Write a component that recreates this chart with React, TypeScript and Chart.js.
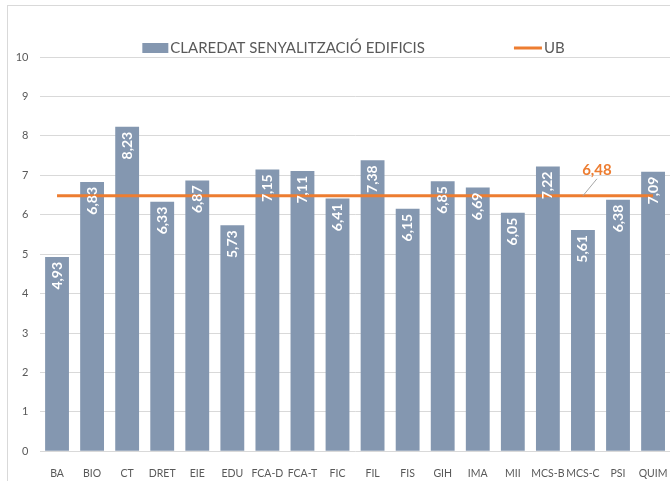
import React, { useEffect, useRef } from "react";
import { Chart, registerables } from "chart.js";

Chart.register(...registerables);

const categories = ["BA", "BIO", "CT", "DRET", "EIE", "EDU", "FCA-D", "FCA-T", "FIC", "FIL", "FIS", "GIH", "IMA", "MII", "MCS-B", "MCS-C", "PSI", "QUIM"];
const claredatValues = [4.93, 6.83, 8.23, 6.33, 6.87, 5.73, 7.15, 7.11, 6.41, 7.38, 6.15, 6.85, 6.69, 6.05, 7.22, 5.61, 6.38, 7.09];
const ubValues = [6.48, 6.48, 6.48, 6.48, 6.48, 6.48, 6.48, 6.48, 6.48, 6.48, 6.48, 6.48, 6.48, 6.48, 6.48, 6.48, 6.48, 6.48];
const ubValue = 6.48;
const ubLabelIndex = 15;
const barLabel = "CLAREDAT SENYALITZACIÓ EDIFICIS";
const lineLabel = "UB";
const yMin = 0;
const yMax = 10;
const yStep = 1;

const BAR_COLOR = "#8497B0";
const LINE_COLOR = "#ED7D31";
const TEXT_COLOR = "#595959";
const GRID_COLOR = "#D9D9D9";
const FONT = "Lato, sans-serif";

const fmt = (v: number) => v.toFixed(2).replace(".", ",");

const overlayPlugin = {
  id: "overlay",
  afterDatasetsDraw(chart: any) {
    const ctx = chart.ctx as CanvasRenderingContext2D;
    const barMeta = chart.getDatasetMeta(1);
    ctx.save();
    ctx.font = "bold 14px Lato";
    ctx.fillStyle = "#FFFFFF";
    ctx.textAlign = "right";
    ctx.textBaseline = "middle";
    barMeta.data.forEach((el: any, i: number) => {
      const { x, y } = el.getProps(["x", "y"], true);
      ctx.save();
      ctx.translate(x, y + 5);
      ctx.rotate(-Math.PI / 2);
      ctx.fillText(fmt(claredatValues[i]), 0, 0);
      ctx.restore();
    });
    ctx.restore();

    // UB data label with leader line
    const xs = chart.scales.x;
    const ys = chart.scales.y;
    const ax = xs.getPixelForValue(ubLabelIndex);
    const ay = ys.getPixelForValue(ubValue);
    ctx.save();
    ctx.strokeStyle = "#A6A6A6";
    ctx.lineWidth = 1;
    ctx.beginPath();
    ctx.moveTo(ax, ay);
    ctx.lineTo(ax + 14, ay - 17);
    ctx.stroke();
    ctx.font = "bold 15px Lato";
    ctx.fillStyle = LINE_COLOR;
    ctx.textAlign = "center";
    ctx.textBaseline = "middle";
    ctx.fillText(fmt(ubValue), ax + 14, ay - 26);
    ctx.restore();
  },
  afterDraw(chart: any) {
    const ctx = chart.ctx as CanvasRenderingContext2D;
    ctx.save();
    ctx.font = `15px ${FONT}`;
    const w1 = ctx.measureText(barLabel).width;
    const w2 = ctx.measureText(lineLabel).width;
    const sw = 26;
    const lw = 28;
    const gapText = 2;
    const gapItems = 89;
    const total = sw + gapText + w1 + gapItems + lw + gapText + w2;
    const cy = 42;
    let x = 345.5 - total / 2;
    ctx.fillStyle = BAR_COLOR;
    ctx.fillRect(x, cy - 5, sw, 10);
    x += sw + gapText;
    ctx.fillStyle = TEXT_COLOR;
    ctx.textAlign = "left";
    ctx.textBaseline = "middle";
    ctx.fillText(barLabel, x, cy);
    x += w1 + gapItems;
    ctx.strokeStyle = LINE_COLOR;
    ctx.lineWidth = 3;
    ctx.beginPath();
    ctx.moveTo(x, cy);
    ctx.lineTo(x + lw, cy);
    ctx.stroke();
    x += lw + gapText;
    ctx.fillText(lineLabel, x, cy);
    ctx.restore();
  },
};

export default function App() {
  const ref = useRef<HTMLCanvasElement>(null);

  useEffect(() => {
    if (!ref.current) return;
    const chart = new Chart(ref.current, {
      type: "bar",
      data: {
        labels: categories,
        datasets: [
          {
            type: "line",
            label: lineLabel,
            data: ubValues,
            borderColor: LINE_COLOR,
            backgroundColor: LINE_COLOR,
            borderWidth: 3,
            pointRadius: 0,
            pointHoverRadius: 0,
            fill: false,
            tension: 0,
            order: 0,
          } as any,
          {
            type: "bar",
            label: barLabel,
            data: claredatValues,
            backgroundColor: BAR_COLOR,
            borderWidth: 0,
            barPercentage: 1,
            categoryPercentage: 0.68,
            order: 1,
          },
        ],
      },
      options: {
        responsive: false,
        animation: false,
        devicePixelRatio: 1,
        layout: { padding: { top: 51, right: 28.4, bottom: 0, left: 0 } },
        plugins: {
          legend: { display: false },
          tooltip: { enabled: false },
          title: { display: false },
        },
        scales: {
          x: {
            grid: { display: false },
            border: { display: false },
            ticks: {
              color: TEXT_COLOR,
              font: { family: FONT, size: 10.5 },
              padding: 8,
              autoSkip: false,
              maxRotation: 0,
              minRotation: 0,
            },
            afterFit: (scale: any) => {
              scale.height = 44.7;
            },
          },
          y: {
            min: yMin,
            max: yMax,
            grid: { color: GRID_COLOR, lineWidth: 1, drawTicks: false },
            border: { display: false },
            ticks: {
              stepSize: yStep,
              color: TEXT_COLOR,
              font: { family: FONT, size: 11 },
              padding: 11,
            },
            afterFit: (scale: any) => {
              scale.width = 31.5;
            },
          },
        },
      },
      plugins: [overlayPlugin],
    });
    return () => chart.destroy();
  }, []);

  return (
    <div style={{ position: "fixed", left: 0, top: 0, width: 670, height: 481, overflow: "hidden", background: "#FFFFFF" }}>
      <div
        style={{
          position: "absolute",
          left: 7,
          top: 5,
          width: 720,
          height: 520,
          borderLeft: "1px solid #D9D9D9",
          borderTop: "1px solid #D9D9D9",
        }}
      >
        <canvas ref={ref} width={691} height={490} style={{ display: "block", width: 691, height: 490 }} />
      </div>
    </div>
  );
}
